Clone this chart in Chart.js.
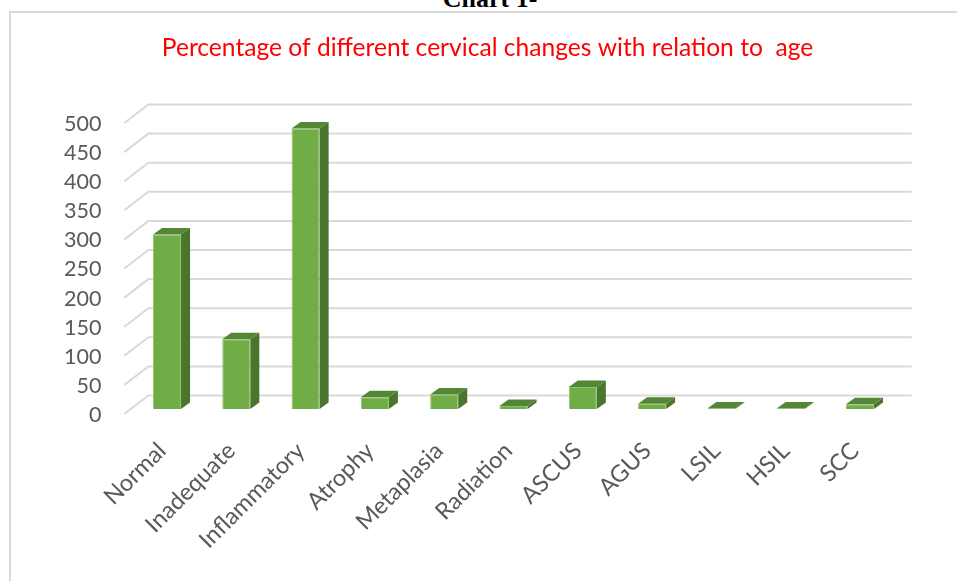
<!DOCTYPE html>
<html>
<head>
<meta charset="utf-8">
<script src="https://cdn.jsdelivr.net/npm/chart.js@4.4.1/dist/chart.umd.min.js"></script>
<style>
  body { margin: 0; background: #fff; overflow: hidden; }
  .caption {
    position: absolute; left: 0; top: -14px; width: 980px;
    text-align: center; font: bold 26px "Liberation Serif", serif;
    line-height: 26px; color: #000;
  }
  .frame {
    position: absolute; left: 9px; top: 11px; width: 960px; height: 600px;
    border-top: 2px solid #d9d9d9; border-left: 2px solid #d9d9d9;
  }
  #myChart { position: absolute; left: 0; top: 0; }
</style>
</head>
<body>
<div class="caption">Chart 1-</div>
<div class="frame"></div>
<canvas id="myChart" width="957" height="581"></canvas>
<script>
const categories = ['Normal', 'Inadequate', 'Inflammatory', 'Atrophy', 'Metaplasia', 'Radiation', 'ASCUS', 'AGUS', 'LSIL', 'HSIL', 'SCC']
const counts = [300, 120, 482, 20, 25, 5, 38, 9, 1, 1, 8]
const yTicks = [0, 50, 100, 150, 200, 250, 300, 350, 400, 450, 500]

const titleText = 'Percentage of different cervical changes with relation to  age'
const fontName = 'Lato'

// fake 3d: back wall gridlines + bar side/top faces
const depth = { gridX: 24, gridY: -18.5, barX: 9, barY: -6.5, shiftY: -5 }

const floorGrid = {
  id: 'floorGrid',
  beforeDatasetsDraw(chart) {
    const { ctx, chartArea, scales } = chart
    const frontX = chartArea.left - 8
    ctx.save()
    ctx.strokeStyle = '#d9d9d9'
    ctx.lineWidth = 2
    yTicks.forEach((v) => {
      const y = scales.y.getPixelForValue(v)
      ctx.beginPath()
      ctx.moveTo(frontX, y)
      ctx.lineTo(frontX + depth.gridX, y + depth.gridY)
      ctx.lineTo(chartArea.right + 17, y + depth.gridY)
      ctx.stroke()
    })
    ctx.restore()
    // bars sit a little inside the depth
    ctx.save()
    ctx.translate(0, depth.shiftY)
  },
  afterDatasetsDraw(chart) {
    const { ctx } = chart
    const meta = chart.getDatasetMeta(0)
    meta.data.forEach((bar) => {
      const { x, y, base, width } = bar.getProps(['x', 'y', 'base', 'width'], true)
      const l = x - width / 2
      const r = x + width / 2
      // side
      ctx.fillStyle = '#4a752d'
      ctx.beginPath()
      ctx.moveTo(r, y)
      ctx.lineTo(r + depth.barX, y + depth.barY)
      ctx.lineTo(r + depth.barX, base + depth.barY)
      ctx.lineTo(r, base)
      ctx.closePath()
      ctx.fill()
      // top
      ctx.fillStyle = '#548735'
      ctx.beginPath()
      ctx.moveTo(l, y)
      ctx.lineTo(l + depth.barX, y + depth.barY)
      ctx.lineTo(r + depth.barX, y + depth.barY)
      ctx.lineTo(r, y)
      ctx.closePath()
      ctx.fill()
    })
    ctx.restore()
  },
}

new Chart(document.getElementById('myChart'), {
  type: 'bar',
  data: {
    labels: categories,
    datasets: [
      {
        label: 'Count',
        data: counts,
        backgroundColor: '#70ad47',
        borderColor: '#8cc46a',
        borderWidth: 1,
        barPercentage: 0.81,
        categoryPercentage: 0.5,
        clip: false,
      },
    ],
  },
  options: {
    responsive: false,
    animation: false,
    layout: { padding: { left: 40, right: 22, top: 0, bottom: 0 } },
    plugins: {
      legend: { display: false },
      tooltip: { enabled: false },
      title: {
        display: true,
        text: titleText,
        color: '#ff0000',
        font: { family: fontName, size: 24.6, weight: 'normal' },
        padding: { top: 33.2, bottom: 60.3 },
      },
    },
    scales: {
      x: {
        grid: { display: false },
        border: { display: false },
        ticks: {
          color: '#595959',
          font: { family: fontName, size: 23.5 },
          minRotation: 45,
          maxRotation: 45,
          padding: 15,
          labelOffset: -5,
          autoSkip: false,
        },
        afterFit(axis) {
          axis.height = 167
        },
      },
      y: {
        min: 0,
        max: 500,
        grid: { display: false },
        border: { display: false },
        ticks: {
          stepSize: 50,
          color: '#595959',
          font: { family: fontName, size: 21.5 },
          padding: 23,
          labelOffset: 1,
        },
        afterFit(axis) {
          axis.width = 92.35
        },
      },
      // empty right axis, only keeps the plot narrower so the title stays centred
      yRight: {
        position: 'right',
        grid: { display: false },
        border: { display: false },
        ticks: { display: false },
        afterFit(axis) {
          axis.width = 40.35
        },
      },
    },
  },
  plugins: [floorGrid],
})
</script>
</body>
</html>
